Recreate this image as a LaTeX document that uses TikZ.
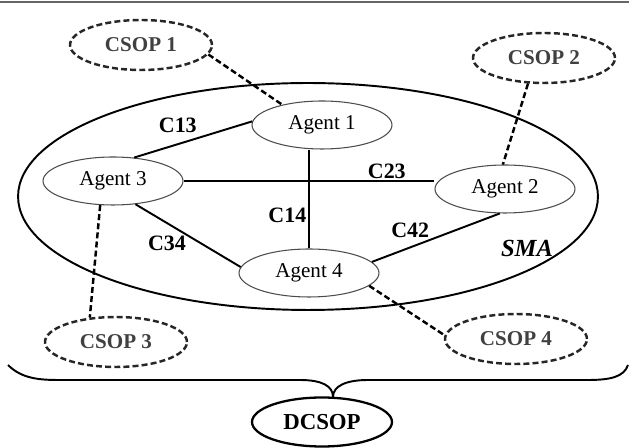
\documentclass[tikz,border=0pt]{standalone}
\usepackage{fontspec}
\setmainfont{Liberation Serif}
\usetikzlibrary{shapes.geometric}
\tikzset{
  agent/.style={ellipse,draw=black!70,line width=0.6pt,minimum width=2.8cm,minimum height=0.96cm,inner sep=0pt,font=\fontsize{12}{14}\selectfont},
  csop/.style={ellipse,draw=black!85,line width=1.4pt,dash pattern=on 3.4pt off 1.8pt,minimum width=2.84cm,minimum height=1cm,inner sep=0pt,text=black!75,font=\fontsize{12}{14}\selectfont\bfseries},
  lab/.style={font=\fontsize{12.5}{14}\selectfont\bfseries,inner sep=1pt},
  link/.style={line width=1.1pt},
  lien/.style={line width=1.4pt,dash pattern=on 3.4pt off 1.8pt},
}
\begin{document}
\begin{tikzpicture}[x=0.02cm,y=-0.02cm]
\useasboundingbox (0,0) rectangle (629,448);
\draw[black!60,line width=1.2pt] (0,2)--(629,2);

\node (sma) at (308,196.5)[ellipse,draw,line width=1.1pt,minimum width=11.6cm,minimum height=4.54cm]{};
\node (smat) at (527,248)[font=\fontsize{14}{16}\selectfont\bfseries\itshape]{SMA};

\node (a1) at (322,125)[agent]{Agent 1};
\node (a2) at (505,189)[agent]{Agent 2};
\node (a3) at (113,181)[agent]{Agent 3};
\node (a4) at (309,273)[agent]{Agent 4};

\node (c1) at (141,45)[csop]{CSOP 1};
\node (c2) at (544,58)[csop]{CSOP 2};
\node (c3) at (116,342)[csop]{CSOP 3};
\node (c4) at (516,339)[csop]{CSOP 4};
\node (d) at (322,422)[ellipse,draw,line width=1.3pt,minimum width=2.8cm,minimum height=0.98cm,inner sep=0pt,font=\fontsize{13}{15}\selectfont\bfseries]{DCSOP};

% contraintes entre agents
\draw[link] (a3.48)--node[lab,pos=0.37,above=5pt] (l13){C13}(a1.177);
\draw[link] (a3.east)--node[lab,pos=0.81,above] (l23){C23}(a3.east -| a2.west);
\draw[link] (a4.north)--node[lab,pos=0.33,left] (l14){C14}(a4.north |- a1.south);
\draw[link] (a3.-46)--node[lab,pos=0.3,below=6pt] (l34){C34}(a4.175);
\draw[link] (a4.10)--node[lab,pos=0.3,above=4pt] (l42){C42}(a2.-102);

% liens vers les CSOP
\draw[lien] (c1.-8)--(a1.153);
\draw[lien] (c2.-122)--(a2.95);
\draw[lien] (a3.-118)--(c3.137);
\draw[lien] (a4.-12)--(c4.177);

% accolade
\coordinate (bl) at (8,365);
\coordinate (br) at (628,365);
\coordinate (tip) at (333,397);
\draw[line width=1.1pt] (bl) .. controls (22,379) and (40,380) .. (60,380)--(300,380) .. controls (322,380) and (333,386) .. (tip);
\draw[line width=1.1pt] (tip) .. controls (333,386) and (346,380) .. (368,380)--(588,380) .. controls (610,380) and (624,377) .. (br);
\end{tikzpicture}
\end{document}
